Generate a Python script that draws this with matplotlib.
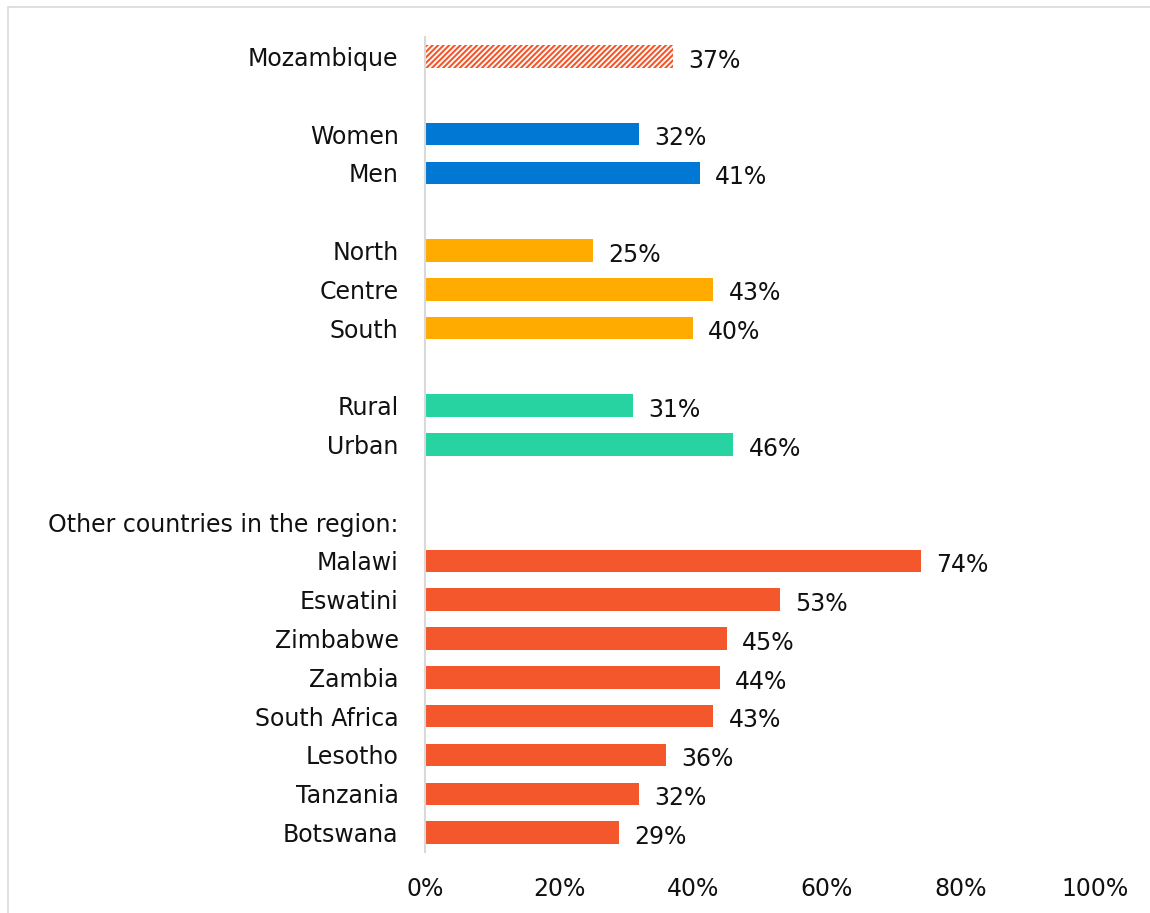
import matplotlib.pyplot as plt
import matplotlib.ticker as ticker
import matplotlib.patches as patches

#
# Data
#

labels = [
    "Mozambique", "",
    "Women", "Men", "",
    "North", "Centre", "South", "",
    "Rural", "Urban", "",
    "Other countries in the region:",
    "Malawi", "Eswatini", "Zimbabwe", "Zambia",
    "South Africa", "Lesotho", "Tanzania", "Botswana",
]
values = [
    37, None,
    32, 41, None,
    25, 43, 40, None,
    31, 46, None,
    None,
    74, 53, 45, 44, 43, 36, 32, 29,
]
groups = [
    "total", None,
    "sex", "sex", None,
    "region", "region", "region", None,
    "area", "area", None,
    None,
    "country", "country", "country", "country",
    "country", "country", "country", "country",
]
x_ticks = [0, 20, 40, 60, 80, 100]

colors = {
    "total": "#F4572B",
    "sex": "#0078D4",
    "region": "#FFAB00",
    "area": "#26D3A1",
    "country": "#F4572B",
}

#
# Graph
#

plt.rcParams["font.family"] = ["DejaVu Sans"]
plt.rcParams["hatch.linewidth"] = 1.5

fig = plt.figure(figsize=(11.5, 9.13), dpi=100)
ax = fig.add_axes([425 / 1150, 1 - 852 / 913, (1095 - 425) / 1150, (852 - 37) / 913])

# thin frame around the whole picture (only top and left visible)
fig.patches.append(patches.Rectangle((8 / 1150, -0.1), 1.2, 1 - 7 / 913 + 0.1,
                                     transform=fig.transFigure, fill=False,
                                     edgecolor="#d9d9d9", linewidth=1.2))

font_size = 17
positions = list(range(len(labels)))
for pos, val, grp in zip(positions, values, groups):
    if val is None:
        continue
    if grp == "total":
        ax.barh(pos, val, height=0.58, color="white", edgecolor=colors[grp],
                hatch="//////", linewidth=0)
    else:
        ax.barh(pos, val, height=0.58, color=colors[grp], linewidth=0)
    ax.annotate(f"{val}%", (val, pos), xytext=(11, -3), textcoords="offset points",
                ha="left", va="center", fontsize=font_size, color="#111111")

ax.set_xlim(0, 100)
ax.set_ylim(len(labels) - 0.5, -0.5)
ax.set_yticks(positions)
ax.set_yticklabels(labels, fontsize=font_size, color="#111111")
ax.set_xticks(x_ticks)
ax.xaxis.set_major_formatter(ticker.FuncFormatter(lambda v, p: f"{v:.0f}%"))
ax.tick_params(axis="x", length=0, pad=18, labelsize=font_size, labelcolor="#111111")
ax.tick_params(axis="y", length=0, pad=19)

for side in ["top", "right", "bottom"]:
    ax.spines[side].set_visible(False)
ax.spines["left"].set_color("#d9d9d9")
ax.spines["left"].set_linewidth(1.5)

fig.savefig("out.png", dpi=100)
